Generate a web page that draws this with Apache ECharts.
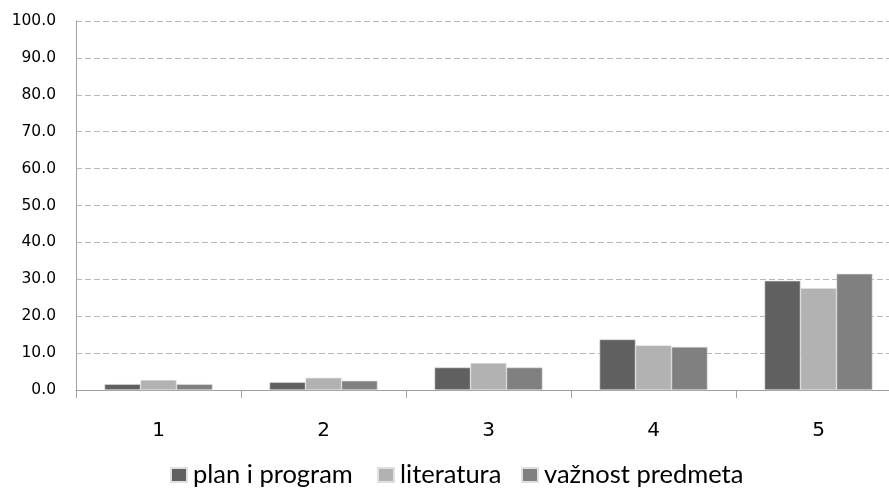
<!DOCTYPE html>
<html>
<head>
<meta charset="utf-8">
<script src="https://cdn.jsdelivr.net/npm/echarts@6/dist/echarts.min.js"></script>
<style>html,body{margin:0;padding:0;background:#fff}#c{width:889px;height:489px}</style>
</head>
<body>
<div id="c"></div>
<script>
var categories = ['1', '2', '3', '4', '5'];
var seriesNames = ['plan i program', 'literatura', 'važnost predmeta'];
var planIProgram = [1.6, 2.1, 6.1, 13.7, 29.6];
var literatura = [2.7, 3.3, 7.3, 12.1, 27.6];
var vaznostPredmeta = [1.6, 2.5, 6.1, 11.7, 31.5];
var yTicks = [0, 10, 20, 30, 40, 50, 60, 70, 80, 90, 100];
var colors = ['#606060', '#b2b2b2', '#808080'];

var chart = echarts.init(document.getElementById('c'), null, {renderer: 'canvas'});
var values = [planIProgram, literatura, vaznostPredmeta];
var legendLeft = [170, 377, 521];
chart.setOption({
  animation: false,
  color: colors,
  grid: {left: 76, width: 825, top: 21, height: 369, containLabel: false, outerBoundsMode: 'none'},
  legend: seriesNames.map(function (n, i) {
    return {
      top: 462, left: legendLeft[i],
      itemWidth: 16, itemHeight: 14, itemGap: 0, padding: 0,
      icon: 'rect',
      textStyle: {fontFamily: 'Lato', fontSize: 25.5, color: '#000', padding: [0, 0, 0, 1]},
      data: [n]
    };
  }),
  xAxis: {
    type: 'category',
    data: categories,
    axisLine: {lineStyle: {color: '#a0a0a0', width: 1}},
    axisTick: {show: true, length: 8, lineStyle: {color: '#a0a0a0'}},
    axisLabel: {fontFamily: 'DejaVu Sans', fontSize: 20, color: '#000', margin: 31}
  },
  yAxis: {
    type: 'value',
    min: yTicks[0], max: yTicks[yTicks.length - 1], interval: 10,
    axisLine: {show: true, lineStyle: {color: '#a0a0a0'}},
    axisTick: {show: false},
    axisLabel: {fontFamily: 'DejaVu Sans', fontSize: 15.5, color: '#000', margin: 20,
      formatter: function (v) { return v.toFixed(1); }},
    splitLine: {lineStyle: {color: '#b8b8b8', type: [6, 3], width: 1}}
  },
  series: values.map(function (d, i) {
    return {
      name: seriesNames[i], type: 'bar', data: d,
      barWidth: 36, barGap: '0%',
      itemStyle: {color: colors[i], borderColor: '#e0e0e0', borderWidth: 0.6}
    };
  })
});
</script>
</body>
</html>
